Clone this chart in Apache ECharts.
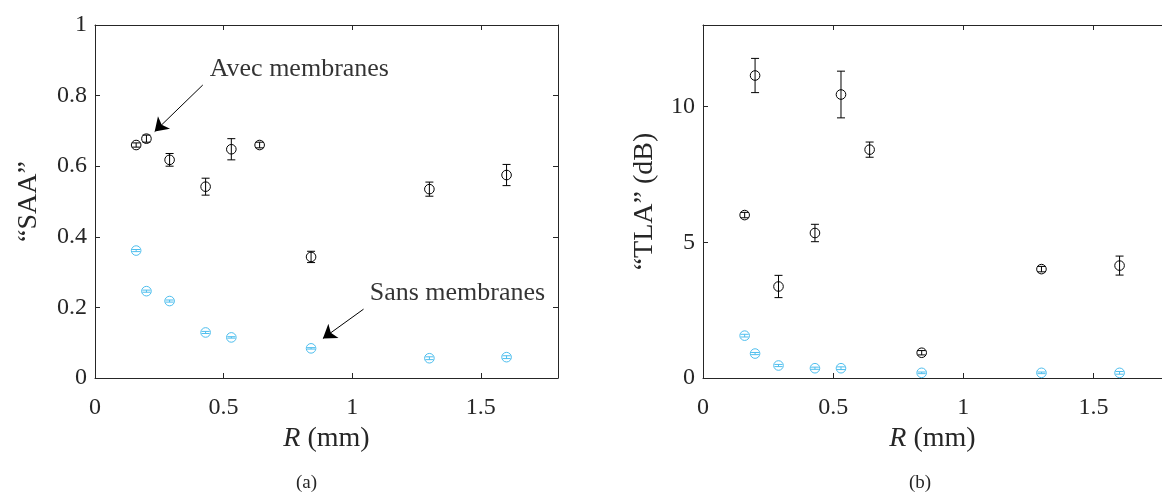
<!DOCTYPE html>
<html>
<head>
<meta charset="utf-8">
<script src="https://cdn.jsdelivr.net/npm/echarts@6/dist/echarts.min.js"></script>
<style>
html,body{margin:0;padding:0;background:#fff;}
#c{width:1162px;height:492px;}
</style>
</head>
<body>
<div id="c"></div>
<script>
// ---- data ----
const R_avec = [0.16, 0.2, 0.29, 0.43, 0.53, 0.64, 0.84, 1.3, 1.6];
const R_sans = [0.16, 0.2, 0.29, 0.43, 0.53, 0.84, 1.3, 1.6];
const SAA_avec = [0.66, 0.678, 0.618, 0.542, 0.648, 0.66, 0.343, 0.535, 0.575];
const SAA_avec_err = [0.006, 0.01, 0.018, 0.024, 0.03, 0.008, 0.016, 0.02, 0.03];
const SAA_sans = [0.361, 0.246, 0.218, 0.129, 0.115, 0.084, 0.056, 0.059];
const SAA_sans_err = [0.003, 0.003, 0.003, 0.003, 0.002, 0.002, 0.004, 0.004];
const TLA_avec = [6.0, 11.14, 3.37, 5.34, 10.44, 8.41, 0.93, 4.01, 4.14];
const TLA_avec_err = [0.1, 0.63, 0.41, 0.32, 0.86, 0.28, 0.08, 0.1, 0.35];
const TLA_sans = [1.56, 0.9, 0.46, 0.36, 0.36, 0.19, 0.19, 0.19];
const TLA_sans_err = [0.05, 0.04, 0.04, 0.04, 0.05, 0.03, 0.03, 0.05];
const xTickLabel = 'R';
const xUnit = ' (mm)';
const yLabelA = '“SAA”';
const yLabelB = '“TLA” (dB)';
const annoAvec = 'Avec membranes';
const annoSans = 'Sans membranes';

const BLACK = '#000000';
const BLUE = '#4DBEEE';
const AXC = '#262626';
const FONT = '"Liberation Serif", "DejaVu Serif", serif';

function zip3(a, b, c) { return a.map((v, i) => [v, b[i], c[i]]); }

function errRender(color) {
  return function (params, api) {
    const x = api.value(0), y = api.value(1), e = api.value(2);
    const c = api.coord([x, y]);
    const t = api.coord([x, y + e]);
    const b = api.coord([x, y - e]);
    const cap = 4, r = 4.8;
    const st = { stroke: color, lineWidth: 1, fill: null };
    return {
      type: 'group',
      children: [
        { type: 'line', shape: { x1: c[0], y1: t[1], x2: c[0], y2: b[1] }, style: st },
        { type: 'line', shape: { x1: c[0] - cap, y1: t[1], x2: c[0] + cap, y2: t[1] }, style: st },
        { type: 'line', shape: { x1: c[0] - cap, y1: b[1], x2: c[0] + cap, y2: b[1] }, style: st },
        { type: 'circle', shape: { cx: c[0], cy: c[1], r: r }, style: { stroke: color, lineWidth: 1, fill: 'none' } }
      ]
    };
  };
}

function xAxes(gridIndex, max) {
  const base = {
    type: 'value', gridIndex: gridIndex, min: 0, max: max, interval: 0.5,
    splitLine: { show: false },
    axisLine: { show: true, onZero: false, lineStyle: { color: AXC, width: 1 } },
    axisTick: { show: true, inside: true, length: 5, lineStyle: { color: AXC } }
  };
  return [
    Object.assign({}, base, {
      position: 'bottom',
      axisLabel: { show: true, showMaxLabel: false, color: AXC, fontFamily: FONT, fontSize: 24, margin: 18 },
      name: '{i|' + xTickLabel + '}' + xUnit,
      nameLocation: 'middle', nameGap: 47,
      nameTextStyle: { color: AXC, fontFamily: FONT, fontSize: 28,
        rich: { i: { fontStyle: 'italic', fontFamily: FONT, fontSize: 28, color: AXC } } }
    }),
    Object.assign({}, base, { position: 'top', axisLabel: { show: false } })
  ];
}

function yAxes(gridIndex, max, interval, name, gap, showRight) {
  const base = {
    type: 'value', gridIndex: gridIndex, min: 0, max: max, interval: interval,
    splitLine: { show: false },
    axisLine: { show: true, onZero: false, lineStyle: { color: AXC, width: 1 } },
    axisTick: { show: true, inside: true, length: 5, lineStyle: { color: AXC } }
  };
  return [
    Object.assign({}, base, {
      position: 'left',
      axisLabel: { show: true, showMaxLabel: max === 1, color: AXC, fontFamily: FONT, fontSize: 24, margin: 8 },
      name: name, nameLocation: 'middle', nameGap: gap,
      nameTextStyle: { color: AXC, fontFamily: FONT, fontSize: 28 }
    }),
    Object.assign({}, base, { position: 'right', show: showRight, axisLabel: { show: false } })
  ];
}

const chart = echarts.init(document.getElementById('c'), null, { renderer: 'canvas' });

const option = {
  animation: false,
  backgroundColor: '#ffffff',
  grid: [
    { left: 95, top: 25, width: 463, height: 353, containLabel: false },
    { left: 703, top: 25, right: 0, height: 353, containLabel: false }
  ],
  xAxis: [].concat(xAxes(0, 1.8), xAxes(1, 1.763)),
  yAxis: [].concat(yAxes(0, 1, 0.2, yLabelA, 52, true), yAxes(1, 13, 5, yLabelB, 44, false)),
  graphic: [
    { type: 'text', left: 296, top: 474, style: { text: '(a)', font: '19px ' + FONT, fill: AXC } },
    { type: 'text', left: 909, top: 474, style: { text: '(b)', font: '19px ' + FONT, fill: AXC } }
  ],
  series: [
    { type: 'custom', xAxisIndex: 0, yAxisIndex: 0, renderItem: errRender(BLUE), data: zip3(R_sans, SAA_sans, SAA_sans_err), z: 3 },
    { type: 'custom', xAxisIndex: 0, yAxisIndex: 0, renderItem: errRender(BLACK), data: zip3(R_avec, SAA_avec, SAA_avec_err), z: 4 },
    { type: 'custom', xAxisIndex: 2, yAxisIndex: 2, renderItem: errRender(BLUE), data: zip3(R_sans, TLA_sans, TLA_sans_err), z: 3 },
    { type: 'custom', xAxisIndex: 2, yAxisIndex: 2, renderItem: errRender(BLACK), data: zip3(R_avec, TLA_avec, TLA_avec_err), z: 4 },
    {
      type: 'lines', coordinateSystem: 'cartesian2d', xAxisIndex: 0, yAxisIndex: 0,
      symbol: ['none', 'arrow'], symbolSize: [0, 13],
      lineStyle: { color: BLACK, width: 1, opacity: 1, curveness: 0 },
      data: [
        { coords: [[0.419, 0.83], [0.232, 0.698]] },
        { coords: [[1.044, 0.195], [0.886, 0.112]] }
      ],
      z: 5
    },
    {
      type: 'scatter', xAxisIndex: 0, yAxisIndex: 0, symbolSize: 0,
      label: { show: true, position: 'right', distance: 0, color: BLACK, fontFamily: FONT, fontSize: 26,
        formatter: p => p.data[2] },
      data: [[0.446, 0.875, annoAvec], [1.068, 0.241, annoSans]],
      z: 5
    }
  ]
};
chart.setOption(option);
</script>
</body>
</html>
